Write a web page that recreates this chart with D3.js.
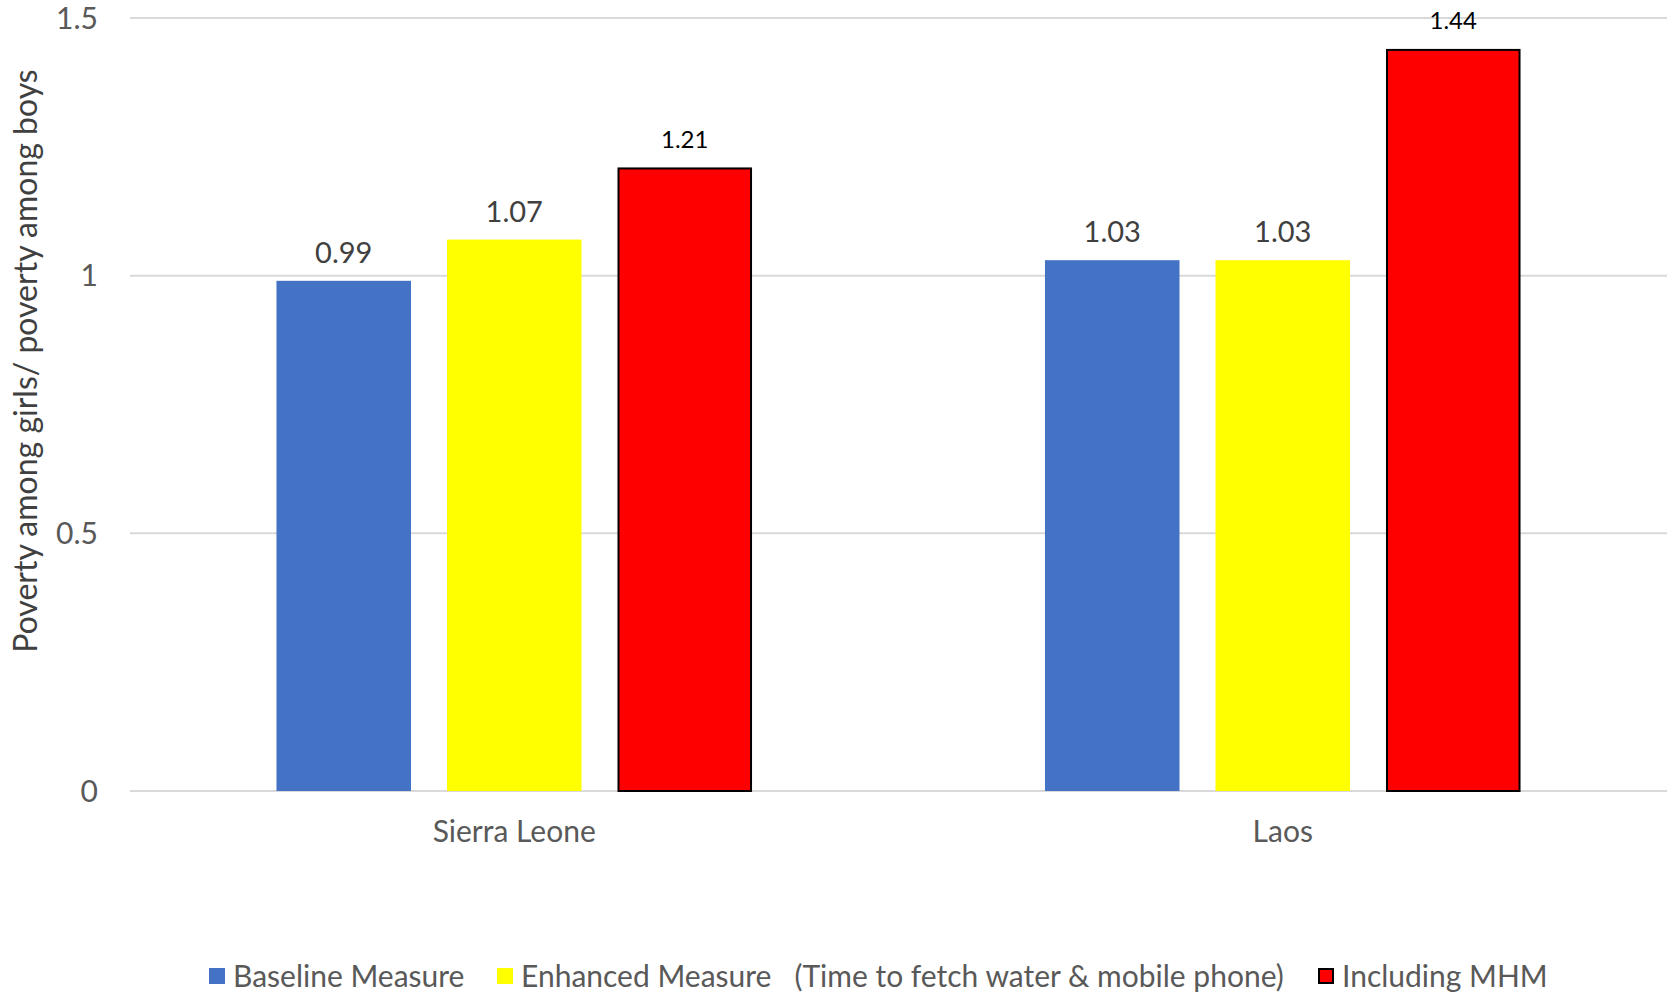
<!DOCTYPE html>
<html><head><meta charset="utf-8">
<script src="https://cdn.jsdelivr.net/npm/d3@7"></script>
<style>
html,body{margin:0;padding:0;background:#fff;}
svg text{font-family:Lato,"Open Sans",sans-serif;}
</style></head>
<body><svg id="c" width="1673" height="992"></svg>
<script>
const categories = ["Sierra Leone", "Laos"];
const seriesNames = ["Baseline Measure", "Enhanced Measure   (Time to fetch water & mobile phone)", "Including MHM"];
const baseline = [0.99, 1.03];
const enhanced = [1.07, 1.03];
const mhm = [1.21, 1.44];
const yTicks = [0, 0.5, 1, 1.5];
const yTickLabels = ["0", "0.5", "1", "1.5"];
const colors = ["#4472C4", "#FFFF00", "#FF0000"];

const seriesValues = [baseline, enhanced, mhm];
const svg = d3.select("#c");
const L = 130, R = 1667, T = 18, B = 791;

const y = d3.scaleLinear().domain([0, 1.5]).range([B, T]);
const x0 = d3.scaleBand().domain(categories).range([L, R]).padding(0);
const x1 = d3.scaleBand().domain(d3.range(3)).range([0, x0.bandwidth()]).paddingInner(0.211).paddingOuter(0.859);

// gridlines
svg.append("g").selectAll("line").data(yTicks).join("line")
  .attr("x1", L).attr("x2", R)
  .attr("y1", d => y(d)).attr("y2", d => y(d))
  .attr("stroke", "#d9d9d9").attr("stroke-width", 2);

// y tick labels
svg.append("g").selectAll("text").data(yTicks).join("text")
  .attr("x", 98).attr("y", d => y(d)).attr("dy", "0.35em")
  .attr("text-anchor", "end").attr("font-size", 30).attr("fill", "#595959")
  .text((d, i) => yTickLabels[i]);

// y title
svg.append("text")
  .attr("transform", `translate(37,361) rotate(-90)`)
  .attr("text-anchor", "middle").attr("font-size", 32).attr("fill", "#404040")
  .text("Poverty among girls/ poverty among boys");

// bars
const groups = svg.append("g").selectAll("g").data(categories).join("g")
  .attr("transform", d => `translate(${x0(d)},0)`);

groups.each(function(cat, ci) {
  const g = d3.select(this);
  seriesValues.forEach((vals, si) => {
    const v = vals[ci];
    const isRed = si === 2;
    g.append("rect")
      .attr("x", x1(si) + (isRed ? 1 : 0))
      .attr("y", y(v) + (isRed ? 1 : 0))
      .attr("width", x1.bandwidth() - (isRed ? 2 : 0))
      .attr("height", y(0) - y(v) - (isRed ? 1 : 0))
      .attr("fill", colors[si])
      .attr("stroke", isRed ? "#000" : "none")
      .attr("stroke-width", isRed ? 2 : 0);
    g.append("text")
      .attr("x", x1(si) + x1.bandwidth() / 2)
      .attr("y", y(v) - 28).attr("dy", "0.35em")
      .attr("text-anchor", "middle")
      .attr("font-size", isRed ? 24 : 29)
      .attr("fill", isRed ? "#000" : "#404040")
      .text(d3.format(".2f")(v));
  });
});

// x labels
svg.append("g").selectAll("text").data(categories).join("text")
  .attr("x", d => x0(d) + x0.bandwidth() / 2).attr("y", 842)
  .attr("text-anchor", "middle").attr("font-size", 30).attr("fill", "#595959")
  .text(d => d);

// legend
const legendX = [209, 497, 1318];
const lg = svg.append("g").selectAll("g").data(seriesNames).join("g")
  .attr("transform", (d, i) => `translate(${legendX[i]},976)`);
lg.append("rect").attr("x", (d, i) => i === 2 ? 1 : 0).attr("y", (d, i) => i === 2 ? -7 : -8)
  .attr("width", (d, i) => i === 2 ? 14 : 16).attr("height", (d, i) => i === 2 ? 14 : 16)
  .attr("fill", (d, i) => colors[i])
  .attr("stroke", (d, i) => i === 2 ? "#000" : "none").attr("stroke-width", 2);
lg.append("text").attr("x", 24).attr("dy", "0.35em")
  .attr("font-size", 30).attr("fill", "#595959")
  .attr("xml:space", "preserve").style("white-space", "pre")
  .text(d => d);
</script></body></html>
